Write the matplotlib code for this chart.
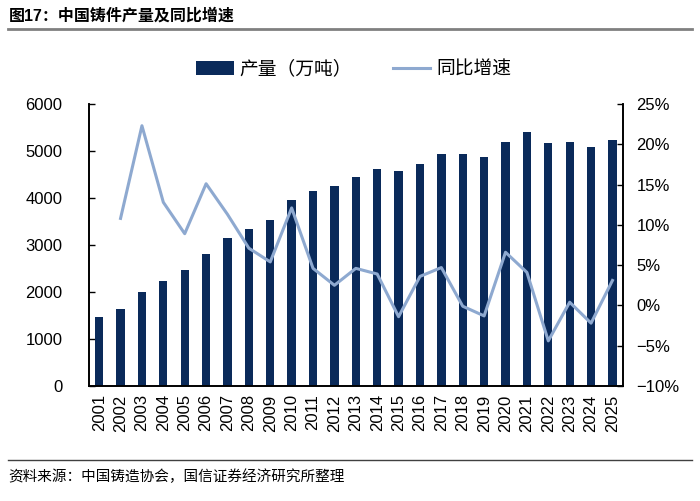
import numpy as np
import matplotlib
matplotlib.use('Agg')
import matplotlib.pyplot as plt
from matplotlib.ticker import FuncFormatter

plt.rcParams['font.family'] = ['Liberation Sans', 'Noto Sans CJK SC', 'DejaVu Sans']
plt.rcParams['axes.unicode_minus'] = True

years = [str(y) for y in range(2001, 2026)]
output = [1470, 1630, 2000, 2240, 2460, 2810, 3140, 3350, 3540, 3960,
          4150, 4250, 4450, 4620, 4570, 4720, 4940, 4940, 4880, 5200,
          5410, 5180, 5190, 5080, 5240]
growth = [np.nan, 10.8, 22.3, 12.8, 8.9, 15.1, 11.3, 7.1, 5.4, 12.1,
          4.6, 2.5, 4.6, 3.9, -1.4, 3.6, 4.7, -0.1, -1.3, 6.6,
          4.1, -4.4, 0.4, -2.2, 3.1]

bar_color = '#0A2A5A'
line_color = '#8EA9D0'

fig = plt.figure(figsize=(7, 5.01), dpi=100)
ax = fig.add_axes([0.127, 0.2295, 0.7626, 0.563])
ax2 = ax.twinx()

x = np.arange(len(years))
ax.bar(x, output, width=0.39, color=bar_color, label='产量（万吨）', zorder=2)
ax2.plot(x, growth, color=line_color, lw=2.2, label='同比增速', zorder=3)

ax.set_xlim(-0.48, len(years) - 0.52)
ax.set_ylim(0, 6000)
ax.set_yticks(np.arange(0, 6001, 1000))
ax2.set_ylim(-10, 25)
ax2.set_yticks(np.arange(-10, 26, 5))
ax2.yaxis.set_major_formatter(FuncFormatter(lambda v, p: f'{v:.0f}%'.replace('-', '\u2212')))

ax.set_xticks(x)
ax.set_xticklabels(years, rotation=90, fontsize=12)
ax.tick_params(axis='x', length=0, pad=6)
ax.tick_params(axis='y', labelsize=12, direction='in', length=4, width=1, pad=19)
ax2.tick_params(axis='y', labelsize=12, direction='in', length=4, width=1, pad=10)

for a in (ax, ax2):
    a.spines['top'].set_visible(False)
    for s in ('left', 'right', 'bottom'):
        a.spines[s].set_linewidth(1.2)
        a.spines[s].set_color('black')

ax.set_zorder(ax2.get_zorder() - 1)
ax.patch.set_visible(False)

h1, l1 = ax.get_legend_handles_labels()
h2, l2 = ax2.get_legend_handles_labels()
fig.legend(h1 + h2, l1 + l2, loc='center', bbox_to_anchor=(0.505, 0.861), ncol=2,
           frameon=False, fontsize=13.5, handlelength=2.0, columnspacing=2.2,
           handletextpad=0.3)

fig.text(0.012, 0.968, '图17：中国铸件产量及同比增速', fontsize=11.5, fontweight='bold',
         ha='left', va='center')
fig.add_artist(plt.Line2D([0.012, 0.988], [0.942, 0.942], color='#808080', lw=2))
fig.add_artist(plt.Line2D([0.012, 0.988], [0.082, 0.082], color='#404040', lw=1))
fig.text(0.012, 0.049, '资料来源：中国铸造协会，国信证券经济研究所整理', fontsize=10.5,
         ha='left', va='center')

fig.savefig('out.png', dpi=100)
